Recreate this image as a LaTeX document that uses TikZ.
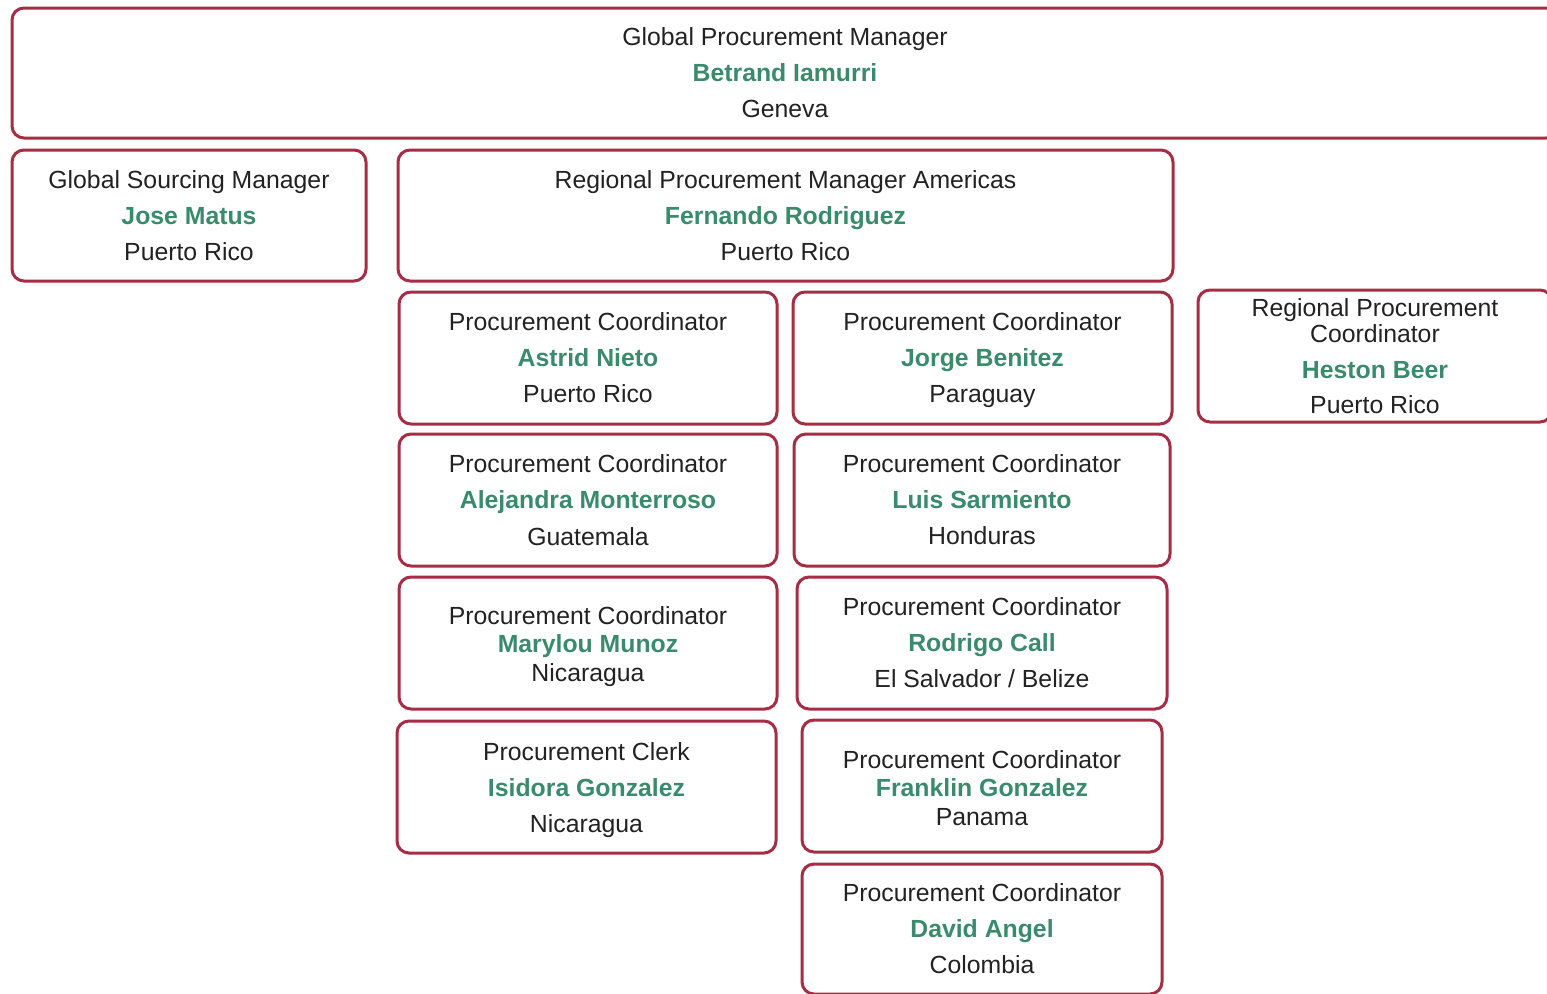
\documentclass[tikz,border=0pt]{standalone}
\usepackage{fontspec}
\setmainfont{Liberation Sans}
\definecolor{cardborder}{RGB}{165,45,70}
\definecolor{namegreen}{RGB}{58,138,110}
\definecolor{bodytext}{RGB}{34,34,34}
\tikzset{
  card/.style={draw=cardborder, line width=1.5pt, rounded corners=6pt, fill=white,
    align=center, text=bodytext, font=\fontsize{12.4}{13}\selectfont, inner sep=0pt}
}
\newcommand\pname[1]{\textcolor{namegreen}{\bfseries #1}}
\newcommand\nodepth[1]{\raisebox{0pt}[\height][0pt]{#1}}
\newcommand\card[6]{\node[card, minimum width={(#4-#2)*0.5pt}, minimum height={(#5-#3)*0.5pt}] (#1) at ({(#2+#4)/2},{(#3+#5)/2}) {#6};}
\begin{document}
\begin{tikzpicture}[x=0.5pt,y=-0.5pt]
\useasboundingbox[fill=white] (0,0) rectangle (1547,993);
\card{gpm}{12}{8}{1558}{138}{Global Procurement Manager\\[5pt]\pname{Betrand Iamurri}\\[5pt]Geneva}
\card{gsm}{12}{150}{366}{281}{Global Sourcing Manager\\[5pt]\pname{Jose Matus}\\[5pt]Puerto Rico}
\card{rpm}{398}{150}{1173}{281}{Regional Procurement Manager Americas\\[5pt]\pname{Fernando Rodriguez}\\[5pt]Puerto Rico}
\card{astrid}{399}{292}{777}{424}{Procurement Coordinator\\[5pt]\pname{Astrid Nieto}\\[5pt]Puerto Rico}
\card{jorge}{793}{292}{1172}{424}{Procurement Coordinator\\[5pt]\pname{Jorge Benitez}\\[5pt]\nodepth{Paraguay}}
\card{heston}{1198}{290}{1552}{422}{Regional Procurement\\Coordinator\\[5pt]\pname{Heston Beer}\\[4.5pt]Puerto Rico}
\card{alejandra}{399}{434}{777}{566}{Procurement Coordinator\\[5pt]\pname{Alejandra Monterroso}\\[5.5pt]Guatemala}
\card{luis}{794}{434}{1170}{566}{Procurement Coordinator\\[5pt]\pname{Luis Sarmiento}\\[5pt]Honduras}
\card{marylou}{399}{577}{777}{709}{\rule{0pt}{9.8pt}Procurement Coordinator\\[1.2pt]\pname{Marylou Munoz}\\[1.5pt]\nodepth{Nicaragua}}
\card{rodrigo}{797}{577}{1167}{709}{Procurement Coordinator\\[5pt]\pname{Rodrigo Call}\\[5pt]El Salvador / Belize}
\card{isidora}{397}{721}{776}{853}{Procurement Clerk\\[5pt]\pname{Isidora Gonzalez}\\[5pt]\nodepth{Nicaragua}}
\card{franklin}{802}{720}{1162}{852}{\rule{0pt}{11pt}Procurement Coordinator\\[1.2pt]\pname{Franklin Gonzalez}\\[1.5pt]Panama}
\card{david}{802}{864}{1162}{994}{Procurement Coordinator\\[5pt]\pname{David Angel}\\[5pt]Colombia}
\end{tikzpicture}
\end{document}
